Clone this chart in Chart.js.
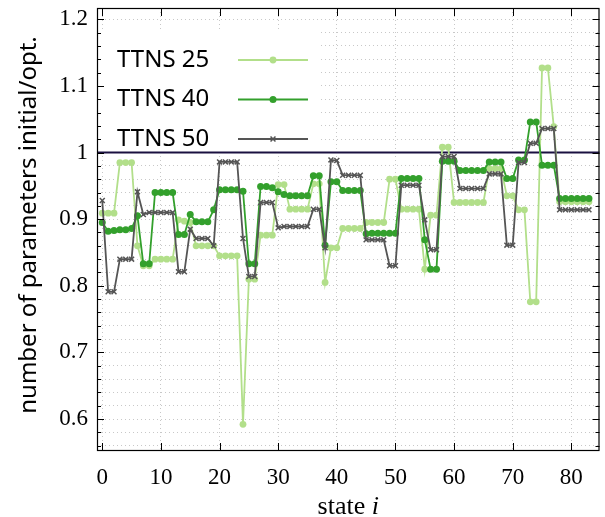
<!DOCTYPE html>
<html><head><meta charset="utf-8">
<script src="https://cdn.jsdelivr.net/npm/chart.js@4.4.1/dist/chart.umd.min.js"></script>
<style>html,body{margin:0;padding:0;background:#fff}#wrap{width:605px;height:517px}</style>
</head><body><div id="wrap"><canvas id="c" width="605" height="517"></canvas></div>
<script>
const states = [0,1,2,3,4,5,6,7,8,9,10,11,12,13,14,15,16,17,18,19,20,21,22,23,24,25,26,27,28,29,30,31,32,33,34,35,36,37,38,39,40,41,42,43,44,45,46,47,48,49,50,51,52,53,54,55,56,57,58,59,60,61,62,63,64,65,66,67,68,69,70,71,72,73,74,75,76,77,78,79,80,81,82,83];
const ttns25 = [0.909,0.909,0.909,0.985,0.985,0.985,0.86,0.83,0.83,0.84,0.84,0.84,0.84,0.899,0.897,0.895,0.86,0.86,0.86,0.86,0.845,0.845,0.845,0.845,0.592,0.81,0.81,0.876,0.876,0.876,0.952,0.952,0.915,0.915,0.915,0.915,0.953,0.953,0.805,0.857,0.857,0.886,0.886,0.886,0.886,0.895,0.895,0.895,0.895,0.96,0.96,0.915,0.915,0.915,0.915,0.825,0.906,0.906,1.008,1.008,0.925,0.925,0.925,0.925,0.925,0.925,0.976,0.976,0.976,0.935,0.935,0.914,0.914,0.776,0.776,1.127,1.127,1.039,0.926,0.926,0.926,0.926,0.926,0.926];
const ttns40 = [0.895,0.882,0.883,0.884,0.884,0.886,0.905,0.833,0.833,0.94,0.94,0.94,0.94,0.877,0.877,0.907,0.896,0.896,0.896,0.914,0.944,0.944,0.944,0.944,0.942,0.833,0.833,0.949,0.949,0.947,0.941,0.937,0.935,0.935,0.935,0.935,0.965,0.965,0.861,0.956,0.956,0.943,0.943,0.943,0.943,0.878,0.879,0.879,0.879,0.879,0.879,0.961,0.961,0.961,0.961,0.869,0.825,0.825,0.987,0.987,0.987,0.973,0.973,0.973,0.973,0.973,0.986,0.986,0.986,0.961,0.961,0.989,0.989,1.046,1.046,0.981,0.981,0.981,0.931,0.931,0.931,0.931,0.931,0.931];
const ttns50 = [0.928,0.791,0.791,0.84,0.84,0.84,0.941,0.907,0.91,0.91,0.91,0.91,0.91,0.821,0.821,0.885,0.871,0.871,0.871,0.86,0.986,0.986,0.986,0.986,0.871,0.814,0.814,0.925,0.925,0.925,0.887,0.889,0.889,0.889,0.889,0.889,0.915,0.915,0.857,0.989,0.988,0.966,0.966,0.966,0.966,0.869,0.869,0.869,0.869,0.83,0.83,0.951,0.951,0.951,0.951,0.899,0.854,0.854,0.994,0.994,0.994,0.946,0.946,0.946,0.946,0.946,0.968,0.968,0.968,0.861,0.861,0.985,0.985,1.014,1.014,1.036,1.036,1.036,0.914,0.914,0.914,0.914,0.914,0.914];
const seriesNames = ['TTNS 25','TTNS 40','TTNS 50'];
const xTicks = [0,10,20,30,40,50,60,70,80];
const yTickLabels = ['0.6','0.7','0.8','0.9','1','1.1','1.2'];
const refValue = 1;

const colors = ['#b2df8a','#33a02c','#555555'];
const serif = '"Liberation Serif", serif';
const sans = '"Noto Sans", sans-serif';
const X_MIN = -0.9, X_MAX = 84.8, Y_MIN = 0.552, Y_MAX = 1.217;

function pts(arr){ return states.map((s,i)=>({x:s,y:arr[i]})); }

const yMajor = yTickLabels.map(Number);
const yMinor = [];
for (let k = 56; k <= 120; k += 2) yMinor.push(k/100);

const datasets = [
  {label:seriesNames[0], data:pts(ttns25), borderColor:colors[0], backgroundColor:colors[0], borderWidth:1.8, pointStyle:'circle', pointRadius:3.4, pointBorderWidth:0, order:2},
  {label:seriesNames[1], data:pts(ttns40), borderColor:colors[1], backgroundColor:colors[1], borderWidth:1.8, pointStyle:'circle', pointRadius:3.5, pointBorderWidth:0, order:1},
  {label:seriesNames[2], data:pts(ttns50), borderColor:colors[2], backgroundColor:colors[2], borderWidth:1.8, pointStyle:'crossRot', pointRadius:3.5, pointBorderWidth:1.5, order:0}
];

const framePlugin = {
  id:'frame',
  beforeDatasetsDraw(chart){
    const {ctx, chartArea:a, scales:{x,y}} = chart;
    ctx.save();
    ctx.fillStyle = '#fff';
    ctx.fillRect(a.left+1, a.top+22, 221, 121);
    const py = y.getPixelForValue(refValue);
    ctx.strokeStyle = '#1a1040';
    ctx.lineWidth = 2;
    ctx.beginPath(); ctx.moveTo(a.left, py); ctx.lineTo(a.right, py); ctx.stroke();
    ctx.restore();
  },
  afterDraw(chart){
    const {ctx, chartArea:a, scales:{x,y}} = chart;
    ctx.save();
    ctx.strokeStyle = '#000';
    ctx.lineWidth = 1;
    ctx.beginPath();
    yMinor.forEach(v=>{
      const p = Math.round(y.getPixelForValue(v))+0.5;
      const major = yMajor.some(m=>Math.abs(m-v)<1e-9);
      const L = major ? 7 : 4;
      ctx.moveTo(a.left, p); ctx.lineTo(a.left+L, p);
      ctx.moveTo(a.right, p); ctx.lineTo(a.right-L, p);
    });
    xTicks.forEach(v=>{
      const p = Math.round(x.getPixelForValue(v))+0.5;
      ctx.moveTo(p, a.bottom); ctx.lineTo(p, a.bottom-8);
      ctx.moveTo(p, a.top); ctx.lineTo(p, a.top+8);
    });
    ctx.stroke();
    ctx.lineWidth = 1.2;
    ctx.strokeRect(a.left+0.5, a.top+0.5, a.right-a.left-1, a.bottom-a.top-1);
    // legend
    ctx.font = '24px ' + sans;
    ctx.textBaseline = 'middle';
    ctx.textAlign = 'left';
    chart.data.datasets.forEach((ds,i)=>{
      const cy = 60 + i*39.5;
      ctx.fillStyle = '#000';
      ctx.fillText(ds.label, 117, cy);
      ctx.strokeStyle = ds.borderColor; ctx.lineWidth = ds.borderWidth;
      ctx.beginPath(); ctx.moveTo(238, cy); ctx.lineTo(308, cy); ctx.stroke();
      ctx.fillStyle = ds.backgroundColor;
      if (ds.pointStyle==='circle'){ ctx.beginPath(); ctx.arc(273, cy, ds.pointRadius, 0, Math.PI*2); ctx.fill(); }
      else { ctx.lineWidth = ds.pointBorderWidth; Chart.helpers.drawPoint(ctx, {pointStyle:ds.pointStyle, radius:ds.pointRadius, borderWidth:ds.pointBorderWidth}, 273, cy); }
    });
    // axis titles
    ctx.fillStyle = '#000';
    ctx.textAlign = 'center';
    ctx.textBaseline = 'middle';
    ctx.save();
    ctx.translate(29, 225);
    ctx.rotate(-Math.PI/2);
    ctx.font = '24px ' + sans;
    ctx.fillText('number of parameters initial/opt.', 0, 0);
    ctx.restore();
    ctx.textBaseline = 'alphabetic';
    ctx.font = '26px ' + serif;
    const t1 = 'state ', t2 = 'i';
    const w1 = ctx.measureText(t1).width;
    ctx.font = 'italic 26px ' + serif;
    const w2 = ctx.measureText(t2).width;
    const cx = (a.left+a.right)/2 - (w1+w2)/2;
    ctx.textAlign = 'left';
    ctx.font = '26px ' + serif;
    ctx.fillText(t1, cx, 514);
    ctx.font = 'italic 26px ' + serif;
    ctx.fillText(t2, cx+w1, 514);
    ctx.restore();
  }
};

Chart.defaults.font.family = serif;
new Chart(document.getElementById('c'), {
  type:'line',
  data:{datasets},
  options:{
    responsive:false, animation:false,
    layout:{padding:{left:0,right:2,top:8,bottom:0}},
    plugins:{legend:{display:false}, tooltip:{enabled:false}},
    scales:{
      x:{type:'linear', min:X_MIN, max:X_MAX,
        afterBuildTicks(s){ s.ticks = [X_MIN].concat(xTicks, [X_MAX]).map(v=>({value:v})); },
        afterFit(s){ s.height = 66; s.paddingLeft = 0; s.paddingRight = 0; },
        ticks:{font:{size:23, family:serif}, color:'#000', padding:13, maxRotation:0, autoSkip:false,
          callback(v){ return xTicks.includes(v) ? String(v) : ''; }},
        grid:{color:(c)=> (c.tick && xTicks.includes(c.tick.value)) ? '#c8c8c8' : 'rgba(0,0,0,0)', lineWidth:1, drawTicks:false},
        border:{display:false, dash:[1,3]}
      },
      y:{type:'linear', min:Y_MIN, max:Y_MAX,
        afterBuildTicks(s){ s.ticks = [Y_MIN].concat(yMinor, [Y_MAX]).map(v=>({value:v})); },
        afterFit(s){ s.width = 97; s.paddingTop = 0; s.paddingBottom = 0; },
        ticks:{font:{size:23, family:serif, lineHeight:0.5}, color:'#000', padding:9, autoSkip:false,
          callback(v){ const idx = yMajor.findIndex(m=>Math.abs(m-v)<1e-9); return idx>=0 ? yTickLabels[idx] : ''; }},
        grid:{color:(c)=> (c.tick && (c.tick.value===Y_MIN || c.tick.value===Y_MAX)) ? 'rgba(0,0,0,0)' : '#c8c8c8', lineWidth:1, drawTicks:false},
        border:{display:false, dash:[1,3]}
      }
    }
  },
  plugins:[framePlugin]
});
</script></body></html>
